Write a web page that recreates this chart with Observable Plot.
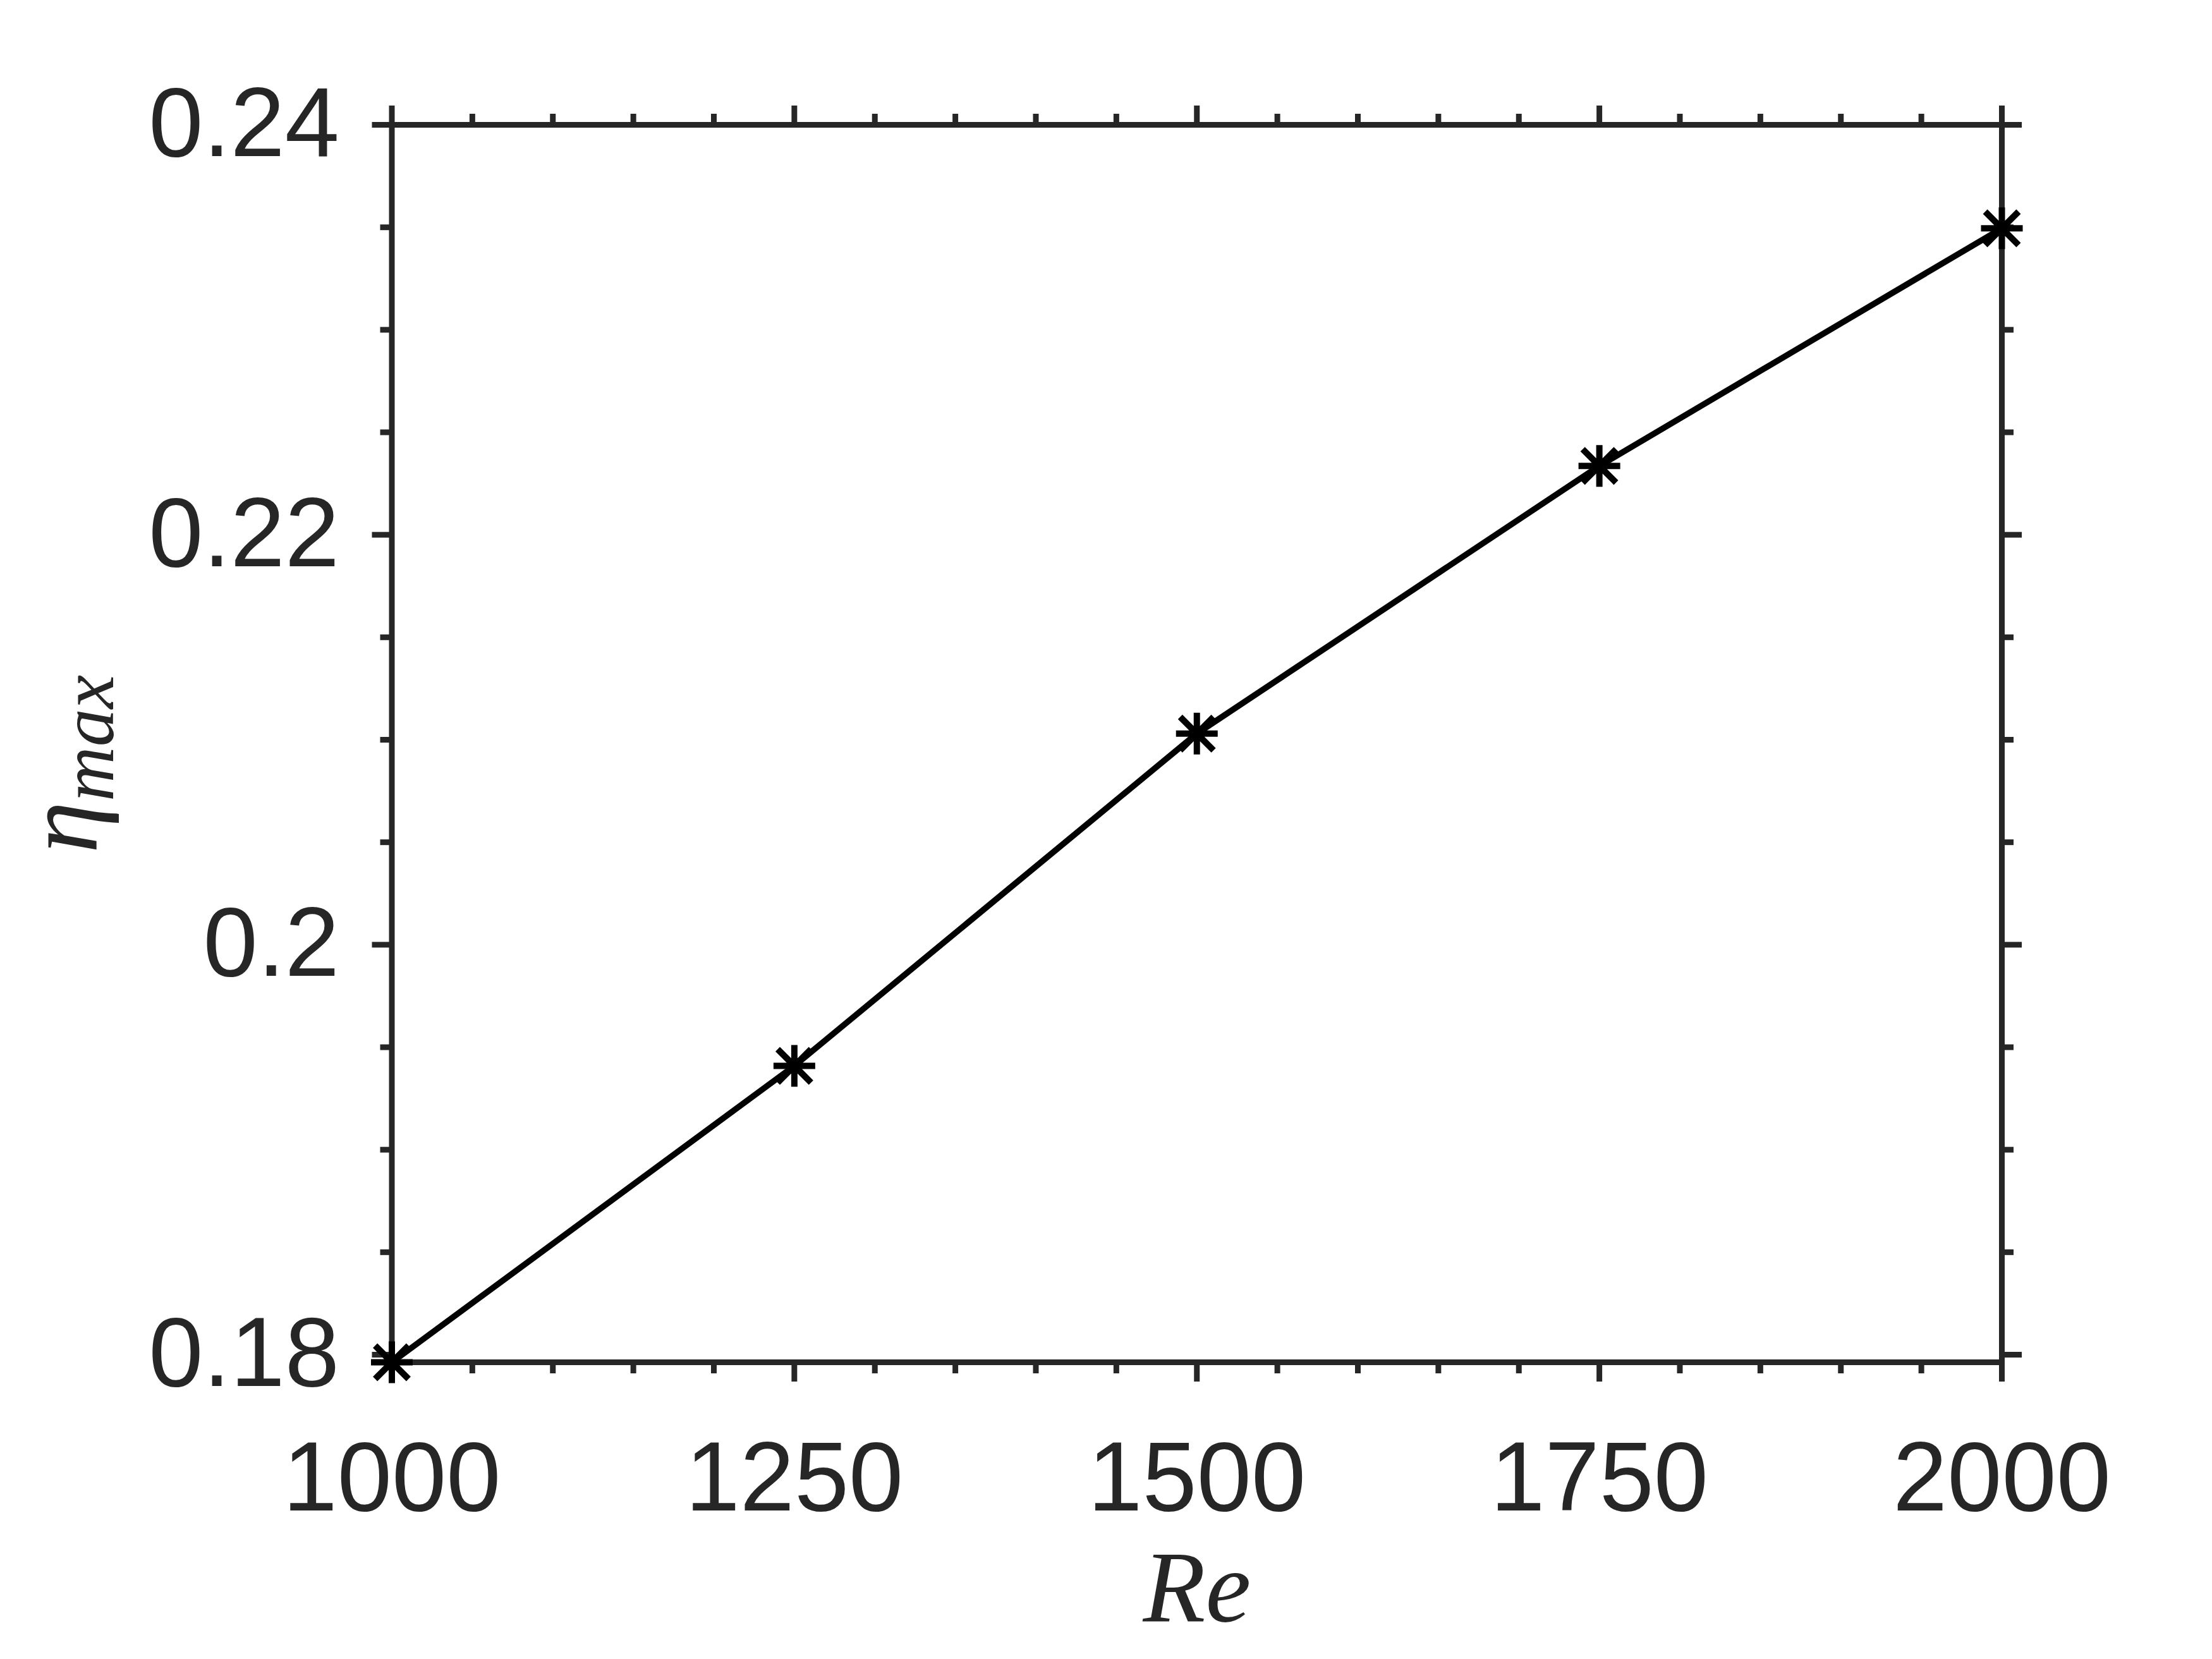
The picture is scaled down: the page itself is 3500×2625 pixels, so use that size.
<!DOCTYPE html>
<html><head><meta charset="utf-8">
<script src="https://cdn.jsdelivr.net/npm/d3@7"></script>
<script src="https://cdn.jsdelivr.net/npm/@observablehq/plot@0.6"></script>
<style>html,body{margin:0;padding:0;background:#fff;overflow:hidden;}</style>
</head><body><div id="chart"></div>
<script>
// Data
const re = [1000, 1250, 1500, 1750, 2000];
const etaMax = [0.17963, 0.19409, 0.2103, 0.22336, 0.23495];

// Tick values
const xMajor = [1000, 1250, 1500, 1750, 2000];
const xMinor = [1050, 1100, 1150, 1200, 1300, 1350, 1400, 1450, 1550, 1600, 1650, 1700, 1800, 1850, 1900, 1950];
const yMajor = [0.18, 0.2, 0.22, 0.24];
const yMinor = [0.185, 0.19, 0.195, 0.205, 0.21, 0.215, 0.225, 0.23, 0.235];
const xDomain = [1000, 2000];
const yDomain = [0.17963, 0.24];
const xLabel = "Re";
const yLabelMain = "η";
const yLabelSub = "max";

const rows = re.map((r, i) => ({re: r, eta: etaMax[i]}));

const axisColor = "#262626";
const majorLen = 31, minorLen = 18, axisW = 9;

const asterisk8 = {
  draw(ctx, size) {
    const r = Math.sqrt(size / Math.PI);
    const d = r * 0.8;
    ctx.moveTo(0, -r); ctx.lineTo(0, r);
    ctx.moveTo(-r, 0); ctx.lineTo(r, 0);
    ctx.moveTo(-d, -d); ctx.lineTo(d, d);
    ctx.moveTo(-d, d); ctx.lineTo(d, -d);
  }
};

const blank = () => "";

const plot = Plot.plot({
  width: 3500,
  height: 2625,
  marginLeft: 619.5,
  marginRight: 333,
  marginTop: 197,
  marginBottom: 470,
  style: {fontFamily: "Liberation Sans, Arial, sans-serif", color: axisColor, background: "#fff"},
  x: {domain: xDomain, label: null},
  y: {domain: yDomain, label: null},
  marks: [
    Plot.axisX(xMajor, {anchor: "bottom", tickSize: majorLen, tickPadding: 93, fontSize: 155, strokeWidth: axisW, stroke: axisColor, fill: axisColor, label: null, tickFormat: d => String(d)}),
    Plot.axisX(xMinor, {anchor: "bottom", tickSize: minorLen, strokeWidth: axisW, stroke: axisColor, tickFormat: blank, label: null}),
    Plot.axisX(xMajor, {anchor: "top", tickSize: majorLen, strokeWidth: axisW, stroke: axisColor, tickFormat: blank, label: null}),
    Plot.axisX(xMinor, {anchor: "top", tickSize: minorLen, strokeWidth: axisW, stroke: axisColor, tickFormat: blank, label: null}),
    Plot.axisY(yMajor, {anchor: "left", tickSize: majorLen, tickPadding: 52, fontSize: 155, strokeWidth: axisW, stroke: axisColor, fill: axisColor, label: null, tickFormat: d => String(d)}),
    Plot.axisY(yMinor, {anchor: "left", tickSize: minorLen, strokeWidth: axisW, stroke: axisColor, tickFormat: blank, label: null}),
    Plot.axisY(yMajor, {anchor: "right", tickSize: majorLen, strokeWidth: axisW, stroke: axisColor, tickFormat: blank, label: null}),
    Plot.axisY(yMinor, {anchor: "right", tickSize: minorLen, strokeWidth: axisW, stroke: axisColor, tickFormat: blank, label: null}),
    Plot.frame({stroke: axisColor, strokeWidth: axisW}),
    Plot.line(rows, {x: "re", y: "eta", stroke: "#000", strokeWidth: 9.5}),
    Plot.dot(rows, {x: "re", y: "eta", r: 33, symbol: asterisk8, fill: "none", stroke: "#000", strokeWidth: 10})
  ]
});

document.getElementById("chart").appendChild(plot);

const svg = d3.select(plot);
const yl = svg.append("text")
  .attr("transform", "translate(153,1209) rotate(-90)")
  .attr("text-anchor", "middle")
  .attr("fill", axisColor)
  .style("font-family", "Liberation Serif, DejaVu Serif, serif")
  .style("font-style", "italic");
yl.append("tspan").attr("font-size", 165).text(yLabelMain);
yl.append("tspan").attr("font-size", 120).attr("dy", 26).text(yLabelSub);

svg.append("text")
  .attr("x", 1894).attr("y", 2565)
  .attr("text-anchor", "middle")
  .attr("fill", axisColor)
  .attr("font-size", 162)
  .style("font-family", "Liberation Serif, DejaVu Serif, serif")
  .style("font-style", "italic")
  .text(xLabel);
</script>
</body></html>
